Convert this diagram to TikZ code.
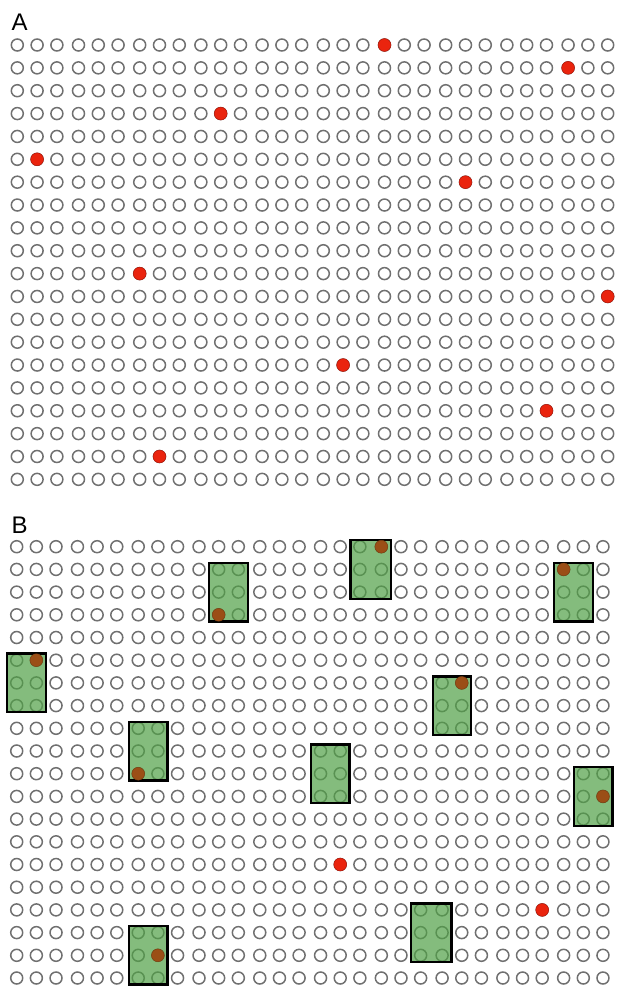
\documentclass[tikz,border=0pt]{standalone}
\usepackage{fontspec}
\setsansfont{Liberation Sans}
\usepackage{tikz}
\usetikzlibrary{positioning,fit}

\definecolor{holegray}{RGB}{112,112,112}
\definecolor{dotred}{RGB}{234,36,14}
\definecolor{dotrim}{RGB}{180,24,10}
\definecolor{dotbrown}{RGB}{155,78,22}
\definecolor{patchgreen}{RGB}{80,160,70}

% column / row positions of the wells (units are pixels)
\pgfmathdeclarefunction{holex}{1}{\pgfmathparse{17.3+61.2*floor(#1/3)+19.8*mod(#1,3)}}
\pgfmathdeclarefunction{rowa}{1}{\pgfmathparse{45+22.86*#1}}
\pgfmathdeclarefunction{holexb}{1}{\pgfmathparse{0.993*holex(#1)-0.48}}
\pgfmathdeclarefunction{rowb}{1}{\pgfmathparse{546.7+22.7*#1}}

\begin{document}
\begin{tikzpicture}[x=1pt,y=-1pt,font=\sffamily,
    hole/.style={circle, draw=holegray, line width=1.5pt, inner sep=0pt,
                 minimum size=12pt},
    hit/.style={circle, fill=dotred, draw=dotrim, line width=0.5pt,
                inner sep=0pt, minimum size=12.8pt},
    hitold/.style={hit, fill=dotbrown, draw=dotbrown!80!black},
    greenbox/.style={rectangle, draw=black, line width=2.4pt,
                     fill=patchgreen, fill opacity=0.7,
                     inner xsep=9.4pt, inner ysep=6.6pt},
    panel/.style={anchor=base west, inner sep=0pt,
                  font=\sffamily\fontsize{24}{24}\selectfont}]
    \useasboundingbox (0,0) rectangle (616,988);

    % panel A
    \node[panel] (labA) at (11.5,30) {A};
    \foreach \r in {0,...,19}
        \foreach \c in {0,...,29}
            \node[hole] (a-\c-\r) at ({holex(\c)},{rowa(\r)}) {};
    \foreach \c/\r in {18/0,27/1,10/3,1/5,22/6,6/10,29/11,16/14,26/16,7/18}
        \node[hit] (ahit-\c-\r) at (a-\c-\r) {};

    % panel B
    \node[panel] (labB) at (11.5,533) {B};
    \foreach \r in {0,...,19}
        \foreach \c in {0,...,29}
            \node[hole] (b-\c-\r) at ({holexb(\c)},{rowb(\r)}) {};
    \foreach \c/\r in {16/14,26/16}
        \node[hit] (bhit-\c-\r) at (b-\c-\r) {};

    \foreach \c/\r [count=\k] in {17/0,27/1,10/1,0/5,21/6,6/8,15/9,28/10,20/16,6/17}{
        \pgfmathtruncatemacro{\cc}{\c+1}
        \pgfmathtruncatemacro{\rr}{\r+2}
        \node[greenbox, fit=(b-\c-\r.center)(b-\cc-\rr.center)] (box\k) {};
    }
    \foreach \c/\r in {18/0,27/1,10/3,1/5,22/6,6/10,29/11,7/18}
        \node[hitold] (bold-\c-\r) at (b-\c-\r) {};
\end{tikzpicture}
\end{document}
